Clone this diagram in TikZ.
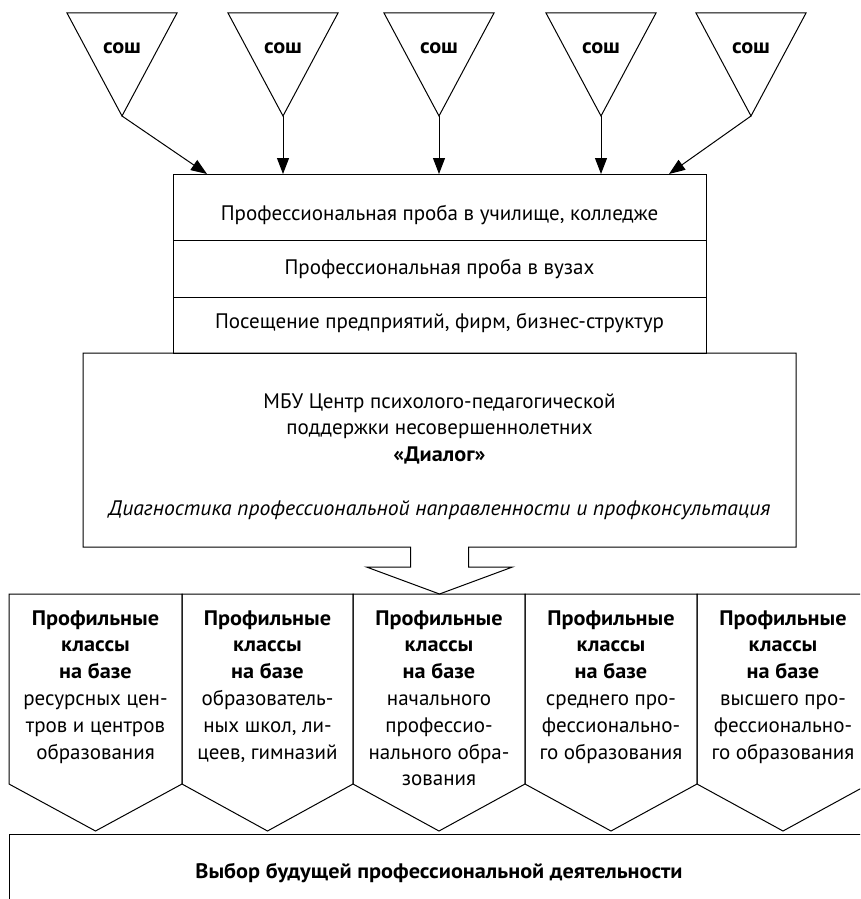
\documentclass[tikz,border=0pt]{standalone}
\usepackage{fontspec}
\setmainfont{PT Sans}[BoldFeatures={FakeStretch=1.06},ItalicFeatures={FakeStretch=1.03}]
\usetikzlibrary{arrows.meta,calc}
\begin{document}
\begin{tikzpicture}[x=1pt,y=-1pt,line width=1pt]
\tikzset{
  box/.style={draw,rectangle,inner sep=0pt,outer sep=0pt},
  plain/.style={rectangle,inner sep=0pt,outer sep=0pt},
  txt/.style={inner sep=0pt,outer sep=0pt,anchor=base,font=\fontsize{21}{26.8}\selectfont},
  btxt/.style={txt,font=\fontsize{21}{26.8}\selectfont\bfseries},
  sosh/.style={txt,font=\fontsize{21}{25}\selectfont\bfseries},
  arr/.style={-{Triangle[length=16pt,width=12pt]}},
}
\clip (0,0) rectangle (860,899);
% source triangles
\foreach \c/\n in {122/1,283/2,439/3,601/4,751/5}{
  \coordinate (a\n) at (\c,116);
  \draw (\c-55,13) -- (\c+55,13) -- (a\n) -- cycle;
  \node[sosh] (s\n) at (\c,53) {сош};
}
% top box with three rows
\node[box,minimum width=533pt,minimum height=66pt,anchor=north west] (r1) at (173,174) {};
\node[box,minimum width=533pt,minimum height=57pt,anchor=north west] (r2) at (173,240) {};
\node[box,minimum width=533pt,minimum height=56pt,anchor=north west] (r3) at (173,297) {};
\node[txt] (r1t) at (439.5,220) {Профессиональная проба в училище, колледже};
\node[txt] (r2t) at (439.5,274) {Профессиональная проба в вузах};
\node[txt] (r3t) at (439.5,328.5) {Посещение предприятий, фирм, бизнес-структур};
% arrows from triangles
\draw[arr] (a1) -- ($(r1.north west)+(34,0)$);
\draw[arr] (a2) -- (a2 |- r1.north);
\draw[arr] (a3) -- (a3 |- r1.north);
\draw[arr] (a4) -- (a4 |- r1.north);
\draw[arr] (a5) -- ($(r1.north east)+(-37,0)$);
% centre box with block arrow
\node[plain,minimum width=713pt,minimum height=194pt,anchor=north west] (mbu) at (83,353) {};
\draw (mbu.south west) -- (mbu.north west) -- (mbu.north east) -- (mbu.south east)
  -- ($(mbu.south)+(29,0)$) -- ++(0,20) -- ++(44,0) -- ($(mbu.south)+(0,47)$)
  -- ($(mbu.south)+(-73,20)$) -- ++(44,0) -- ($(mbu.south)+(-29,0)$) -- cycle;
\node[txt] (mbut) at (439.5,408) {\begin{tabular}[t]{@{}c@{}}
МБУ Центр психолого-педагогической\\
поддержки несовершеннолетних\\
\textbf{«Диалог»}\\
\\
\textit{Диагностика профессиональной направленности и профконсультация}
\end{tabular}};
% profile columns
\foreach \L/\R/\n in {9/182/1,182/353/2,353/525/3,525/697/4,697/869/5}{
  \draw (\L,594) -- (\R,594) -- (\R,784) -- ({(\L+\R)/2},831) -- (\L,784) -- cycle;
  \coordinate (c\n) at ({(\L+\R)/2},625);
}
\node[txt] (p1) at (c1) {\begin{tabular}[t]{@{}c@{}}\textbf{Профильные}\\\textbf{классы}\\\textbf{на базе}\\ресурсных цен-\\тров и центров\\образования\end{tabular}};
\node[txt] (p2) at (c2) {\begin{tabular}[t]{@{}c@{}}\textbf{Профильные}\\\textbf{классы}\\\textbf{на базе}\\образователь-\\ных школ, ли-\\цеев, гимназий\end{tabular}};
\node[txt] (p3) at (c3) {\begin{tabular}[t]{@{}c@{}}\textbf{Профильные}\\\textbf{классы}\\\textbf{на базе}\\начального\\профессио-\\нального обра-\\зования\end{tabular}};
\node[txt] (p4) at (c4) {\begin{tabular}[t]{@{}c@{}}\textbf{Профильные}\\\textbf{классы}\\\textbf{на базе}\\среднего про-\\фессионально-\\го образования\end{tabular}};
\node[txt] (p5) at (c5) {\begin{tabular}[t]{@{}c@{}}\textbf{Профильные}\\\textbf{классы}\\\textbf{на базе}\\высшего про-\\фессионально-\\го образования\end{tabular}};
% final box
\node[box,minimum width=860pt,minimum height=80pt,anchor=north west] (choice) at (9,834) {};
\node[btxt] (choicet) at (439,878) {Выбор будущей профессиональной деятельности};
\end{tikzpicture}
\end{document}
